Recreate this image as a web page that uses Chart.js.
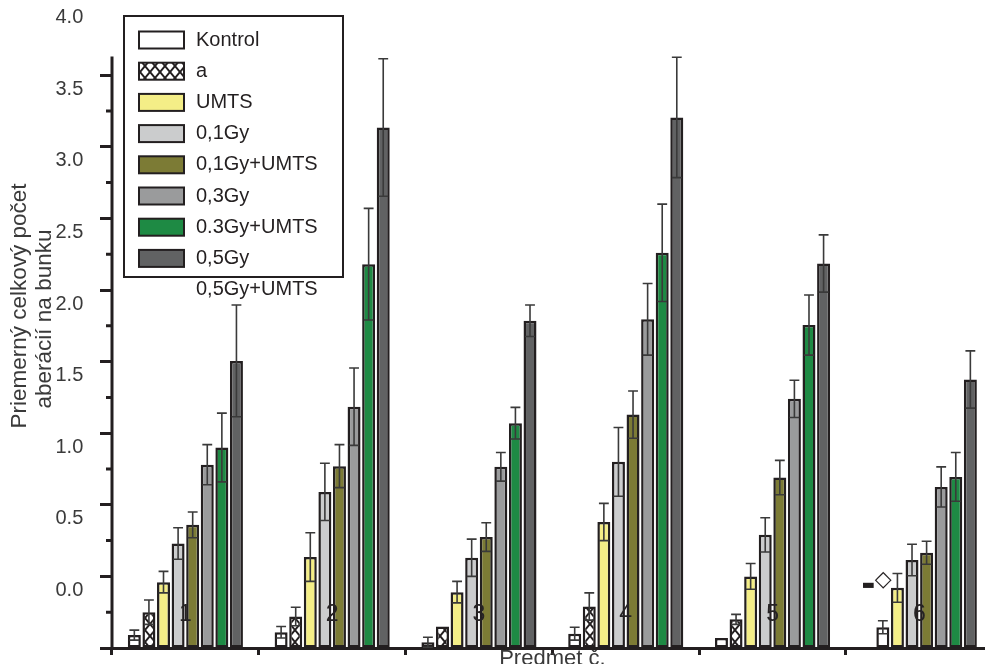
<!DOCTYPE html>
<html lang="sk">
<head>
<meta charset="UTF-8">
<title>Priemerný celkový počet aberácií na bunku</title>
<script src="https://cdn.jsdelivr.net/npm/chart.js"></script>
<style>
  html, body { margin: 0; padding: 0; background: #fff; overflow: hidden; }
  #wrap { width: 1000px; height: 700px; }
</style>
</head>
<body>
<div id="wrap"><canvas id="aberChart" width="1000" height="700"></canvas></div>
<script>
// subjects on the x axis (Predmet c.)
const subjects = ['1', '2', '3', '4', '5', '6'];
const legendLabels = ['Kontrol', 'a', 'UMTS', '0,1Gy', '0,1Gy+UMTS', '0,3Gy', '0.3Gy+UMTS', '0,5Gy', '0,5Gy+UMTS'];
const yTitleLines = ['Priemerný celkový počet', 'aberácií na bunku'];
const xTitle = 'Predmet č.';

// mean aberrations per cell, one array per treatment
const kontrol = [-0.41, -0.39, -0.46, -0.40, -0.43, null];
const aGroup  = [-0.25, -0.28, -0.35, -0.21, -0.30, -0.355];
const umts    = [-0.04, 0.135, -0.11, 0.38, 0.0, -0.08];
const gy01    = [0.23, 0.59, 0.13, 0.80, 0.29, 0.115];
const gy01U   = [0.36, 0.77, 0.275, 1.13, 0.69, 0.165];
const gy03    = [0.78, 1.185, 0.765, 1.795, 1.24, 0.625];
const gy03U   = [0.90, 2.18, 1.07, 2.26, 1.755, 0.695];
const gy05    = [1.505, 3.135, 1.785, 3.205, 2.185, 1.375];

// error bar half lengths
const errKontrol = [0.035, 0.04, 0.035, 0.045, 0, 0];
const errA       = [0.085, 0.065, 0, 0.095, 0.035, 0.045];
const errUmts    = [0.075, 0.17, 0.075, 0.13, 0.09, 0.1];
const errGy01    = [0.11, 0.2, 0.13, 0.24, 0.12, 0.11];
const errGy01U   = [0.09, 0.15, 0.1, 0.165, 0.12, 0.08];
const errGy03    = [0.14, 0.27, 0.1, 0.25, 0.13, 0.14];
const errGy03U   = [0.24, 0.39, 0.11, 0.34, 0.21, 0.17];
const errGy05    = [0.39, 0.48, 0.11, 0.42, 0.2, 0.2];

const yTickValues = { min: -0.5, max: 4.0, step: 0.5 };

const INK = '#231f20';
const TEXT = '#3a3a3a';
const FONT = '"Liberation Sans", Arial, Helvetica, sans-serif';

// cross hatch fill for the "a" bars
function makeHatch() {
  const c = document.createElement('canvas');
  c.width = 10; c.height = 12;
  const g = c.getContext('2d');
  g.fillStyle = '#fff';
  g.fillRect(0, 0, 10, 12);
  g.strokeStyle = INK;
  g.lineWidth = 2;
  g.beginPath();
  g.moveTo(0, 0); g.lineTo(10, 12);
  g.moveTo(10, 0); g.lineTo(0, 12);
  g.stroke();
  return g.createPattern(c, 'repeat');
}
const hatch = makeHatch();

const seriesValues = [kontrol, aGroup, umts, gy01, gy01U, gy03, gy03U, gy05];
const seriesErrors = [errKontrol, errA, errUmts, errGy01, errGy01U, errGy03, errGy03U, errGy05];
const seriesColors = ['#ffffff', hatch, '#f4ee87', '#cbcccd', '#7c7b35', '#9a9b9c', '#1e8a44', '#616263'];

const datasets = seriesValues.map((vals, i) => ({
  label: legendLabels[i],
  data: vals,
  errors: seriesErrors[i],
  // last "a" bar is drawn plain white in the original
  backgroundColor: i === 1 ? vals.map((v, j) => j === 5 ? '#ffffff' : hatch) : seriesColors[i],
  borderColor: INK,
  borderWidth: 2.5,
  borderSkipped: false,
  base: yTickValues.min
}));

const decor = {
  id: 'decor',
  afterDatasetsDraw(chart) {
    // error bars
    const ctx = chart.ctx, ys = chart.scales.y;
    ctx.save();
    ctx.strokeStyle = '#3a3a3a';
    ctx.lineWidth = 1.6;
    chart.data.datasets.forEach((ds, i) => {
      chart.getDatasetMeta(i).data.forEach((bar, j) => {
        const v = ds.data[j], e = ds.errors[j];
        if (v == null || !e) return;
        const top = ys.getPixelForValue(v + e);
        const bot = ys.getPixelForValue(v - e);
        const half = bar.width * 0.38;
        ctx.beginPath();
        ctx.moveTo(bar.x, top); ctx.lineTo(bar.x, bot);
        ctx.moveTo(bar.x - half, top); ctx.lineTo(bar.x + half, top);
        ctx.moveTo(bar.x - half, bot); ctx.lineTo(bar.x + half, bot);
        ctx.stroke();
      });
    });
    ctx.restore();
  },
  afterDraw(chart) {
    const ctx = chart.ctx, ys = chart.scales.y, xs = chart.scales.x;
    const area = chart.chartArea;
    ctx.save();

    // y axis line stops a little above 3.5
    ctx.strokeStyle = INK;
    ctx.lineWidth = 3;
    ctx.beginPath();
    ctx.moveTo(area.left, ys.getPixelForValue(yTickValues.min) + 1.5);
    ctx.lineTo(area.left, ys.getPixelForValue(3.63));
    ctx.stroke();
    // minor ticks
    ctx.beginPath();
    for (let v = -0.25; v < 3.3; v += 0.5) {
      const y = ys.getPixelForValue(v);
      ctx.moveTo(area.left - 6, y);
      ctx.lineTo(area.left, y);
    }
    ctx.stroke();

    // subject numbers sit inside the plot, over the bars
    ctx.fillStyle = '#262324';
    ctx.font = '23px ' + FONT;
    ctx.textAlign = 'center';
    ctx.textBaseline = 'middle';
    subjects.forEach((s, i) => {
      ctx.fillText(s, xs.getPixelForValue(i), ys.getPixelForValue(-0.27));
    });

    // y title, two rotated lines
    ctx.fillStyle = TEXT;
    ctx.font = '22.5px ' + FONT;
    [[20, 306], [45, 319]].forEach(([x, y], i) => {
      ctx.save();
      ctx.translate(x, y);
      ctx.rotate(-Math.PI / 2);
      ctx.fillText(yTitleLines[i], 0, 0);
      ctx.restore();
    });

    // odd marker left of subject 6
    const x6 = xs.getPixelForValue(5);
    const ym = ys.getPixelForValue(-0.03);
    ctx.fillStyle = INK;
    ctx.font = 'bold 14px "DejaVu Sans", sans-serif';
    ctx.fillText('▬', x6 - 51, ym + 5);
    ctx.font = 'bold 22px "DejaVu Sans", sans-serif';
    ctx.fillText('◇', x6 - 36, ym);

    // legend box
    const lg = { left: 124, top: 16, width: 219, height: 261, swX: 139, swW: 45, swH: 17, textX: 196, firstY: 40, rowGap: 31.2 };
    ctx.fillStyle = '#fff';
    ctx.fillRect(lg.left, lg.top, lg.width, lg.height);
    ctx.strokeStyle = INK;
    ctx.lineWidth = 2;
    ctx.strokeRect(lg.left, lg.top, lg.width, lg.height);
    ctx.font = '20px ' + FONT;
    ctx.textAlign = 'left';
    legendLabels.forEach((lab, i) => {
      const cy = lg.firstY + i * lg.rowGap;
      if (i < seriesColors.length) {
        ctx.fillStyle = seriesColors[i];
        ctx.fillRect(lg.swX, cy - lg.swH / 2, lg.swW, lg.swH);
        ctx.strokeRect(lg.swX, cy - lg.swH / 2, lg.swW, lg.swH);
      }
      ctx.fillStyle = INK;
      ctx.fillText(lab, lg.textX, cy);
    });
    ctx.restore();
  }
};

new Chart(document.getElementById('aberChart'), {
  type: 'bar',
  data: { labels: subjects, datasets: datasets },
  options: {
    responsive: false,
    animation: false,
    devicePixelRatio: 1,
    layout: { padding: { top: 3.6, left: 0, right: 7.3, bottom: 0 } },
    datasets: { bar: { categoryPercentage: 0.795, barPercentage: 0.89 } },
    plugins: {
      legend: { display: false },
      tooltip: { enabled: false }
    },
    scales: {
      x: {
        grid: { offset: true, drawOnChartArea: false, tickLength: 7, tickWidth: 3, tickColor: INK },
        border: { display: true, width: 3, color: INK },
        ticks: { display: false },
        title: { display: true, text: xTitle, color: TEXT, font: { family: FONT, size: 22 }, padding: { top: 0, bottom: 28 } },
        afterFit(s) { s.height = 52; s.paddingLeft = 0; s.paddingRight = 0; }
      },
      y: {
        min: yTickValues.min,
        max: yTickValues.max,
        grid: {
          drawOnChartArea: false, tickLength: 12, tickWidth: 3,
          tickColor: c => c.tick && c.tick.value > 3.9 ? 'rgba(0,0,0,0)' : INK
        },
        border: { display: false },
        ticks: {
          stepSize: yTickValues.step,
          labelOffset: 14,
          padding: 16.7,
          color: TEXT,
          font: { family: FONT, size: 20 },
          callback: v => v < -0.01 ? '' : Number(v).toFixed(1)
        },
        afterFit(s) { s.width = 112; s.paddingTop = 0; s.paddingBottom = 0; }
      }
    }
  },
  plugins: [decor]
});
</script>
</body>
</html>
